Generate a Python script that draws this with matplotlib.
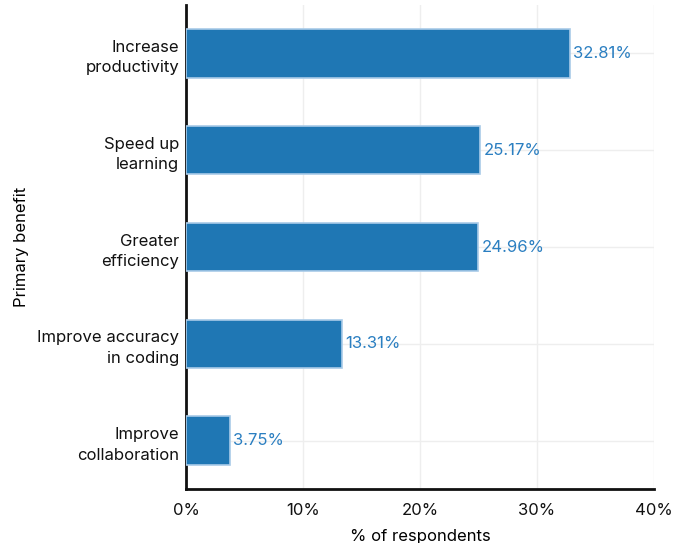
import matplotlib
matplotlib.use("Agg")
import matplotlib.pyplot as plt

categories = ["Increase\nproductivity", "Speed up\nlearning", "Greater\nefficiency",
              "Improve accuracy\nin coding", "Improve\ncollaboration"]
values = [32.81, 25.17, 24.96, 13.31, 3.75]
xticks = [0, 10, 20, 30, 40]
xtick_labels = ["0%", "10%", "20%", "30%", "40%"]

plt.rcParams['font.family'] = ['Inter', 'DejaVu Sans']

fig = plt.figure(figsize=(6.86, 5.43), dpi=100)
ax = fig.add_axes([186/686, 1-489/543, (654-186)/686, (489-5)/543])

ypos = list(range(len(categories)))
ax.barh(ypos, values, height=0.5, color="#1f77b4", edgecolor="#a9cbe8", linewidth=1.2, zorder=3)
for y, v in zip(ypos, values):
    ax.text(v + 0.3, y, f"{v:.2f}%", va="center", ha="left", fontsize=12, color="#2b7fc1", zorder=4)

ax.set_ylim(len(categories) - 0.5, -0.5)
ax.set_xlim(0, 40)
ax.set_yticks(ypos)
ax.set_yticklabels(categories, fontsize=12, color="#111111", linespacing=1.45)
ax.set_xticks(xticks)
ax.set_xticklabels(xtick_labels, fontsize=12, color="#111111")
ax.tick_params(axis="y", length=0, pad=5)
ax.tick_params(axis="x", length=0, pad=10)
ax.grid(True, color="#eeeeee", linewidth=1, zorder=0)
ax.set_axisbelow(True)
for s in ["top", "right"]:
    ax.spines[s].set_visible(False)
for s in ["left", "bottom"]:
    ax.spines[s].set_linewidth(2)
    ax.spines[s].set_color("#111111")
ax.set_xlabel("% of respondents", fontsize=12, labelpad=8)
ax.set_ylabel("Primary benefit", fontsize=12, labelpad=6)

fig.savefig("out.png", dpi=100)
